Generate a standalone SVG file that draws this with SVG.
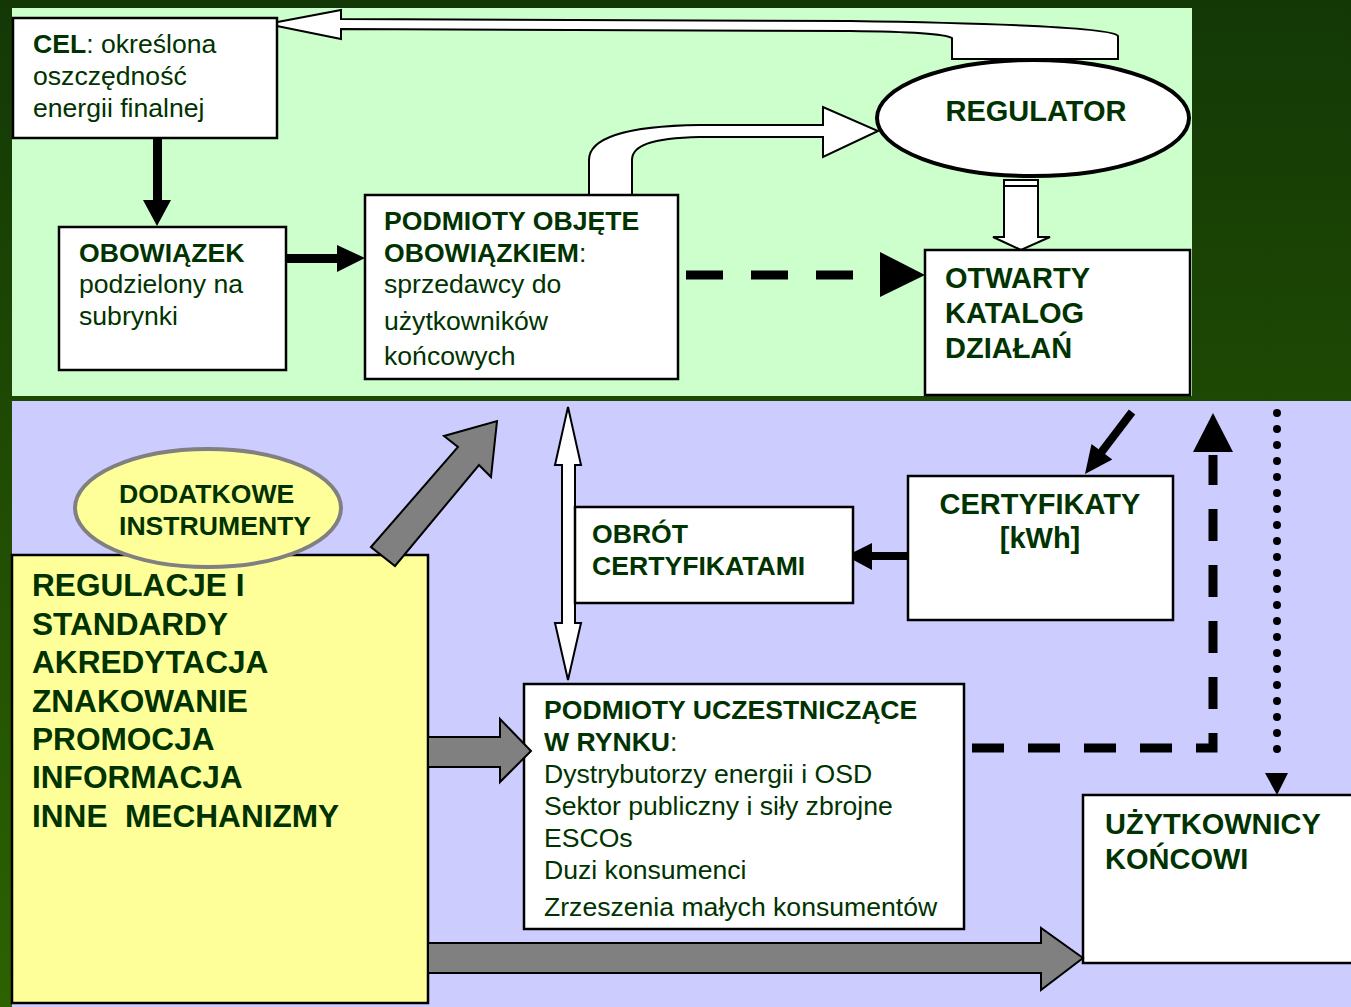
<svg xmlns="http://www.w3.org/2000/svg" width="1351" height="1007" viewBox="0 0 1351 1007">
<defs>
<linearGradient id="bg" x1="0" y1="0" x2="0" y2="1">
<stop offset="0" stop-color="#133806"/>
<stop offset="1" stop-color="#2d6200"/>
</linearGradient>
</defs>
<style>
.box{fill:#fff;stroke:#000;stroke-width:2.5}
.t{font-family:"Liberation Sans",Arial,sans-serif;fill:#003300;font-size:26.6px}
.b{font-weight:bold}
.big{font-size:29px}
.huge{font-size:31.6px}
.hollow{fill:#fff;stroke:#000;stroke-width:2}
.grey{fill:#808080;stroke:#000;stroke-width:2}
.solid{fill:#000;stroke:none}
</style>
<rect x="0" y="0" width="1351" height="1007" fill="url(#bg)"/>
<rect x="12" y="8" width="1180" height="388" fill="#ccffcc"/>
<rect x="12" y="401" width="1339" height="606" fill="#ccccff"/>

<g id="connectors">
<path class="hollow" d="M267,24 L341,10 L341,19 L850,21 Q1112,25 1118,36 L1118,59 L952,59 L952,38 Q942,32 850,31 L341,29 L341,39 Z"/>
<path class="solid" d="M153,138 H162 V200 H171 L157,226 L143,200 H153 Z"/>
<path class="solid" d="M286,254 H337 V245 L365,258 L337,272 V263 H286 Z"/>
<path class="hollow" d="M589,195 V160 C589,140 620,126 700,125 L823,125 L823,107 L878,131 L823,157 L823,137 L700,137 C650,138 632,146 632,160 V195 Z"/>
<path d="M686,275 H853" stroke="#000" stroke-width="9" stroke-dasharray="37 28" fill="none"/>
<path class="solid" d="M880,252 L925,275 L880,297 Z"/>
<path class="hollow" d="M1004,180 V237 H993 L1021,250 L1050,237 H1038 V180 Z"/>
<path d="M1004,186 H1038" stroke="#000" stroke-width="2"/>
<path d="M1132,412 L1100,454" stroke="#000" stroke-width="8"/>
<path class="solid" d="M1085,474 L1091.5,443.9 L1112.3,459.6 Z"/>
<path d="M972,748 H1213 V455" stroke="#000" stroke-width="9" stroke-dasharray="32 24" fill="none"/>
<path class="solid" d="M1213,413 L1233,452 L1193,452 Z"/>
<path d="M1277,413 V765" stroke="#000" stroke-width="8" stroke-linecap="round" stroke-dasharray="0 16" fill="none"/>
<path class="solid" d="M1265,773 L1288,773 L1277,795 Z"/>
<path class="solid" d="M908,552 H872 V543 L846,556 L872,570 V560 H908 Z"/>
<path class="hollow" d="M568,407 L581,465 L575,465 L575,623 L581,623 L568,680 L555,623 L562,623 L562,465 L555,465 Z"/>
</g>

<g id="cel">
<rect class="box" x="13" y="18" width="264" height="120"/>
<text class="t" x="33" y="53"><tspan class="b">CEL</tspan>: określona</text>
<text class="t" x="33" y="85">oszczędność</text>
<text class="t" x="33" y="117">energii finalnej</text>
</g>

<g id="obowiazek">
<rect class="box" x="59" y="227" width="227" height="143"/>
<text class="t b" x="79" y="262">OBOWIĄZEK</text>
<text class="t" x="79" y="293">podzielony na</text>
<text class="t" x="79" y="325">subrynki</text>
</g>

<g id="podmioty-objete">
<rect class="box" x="365" y="195" width="313" height="184"/>
<text class="t" x="384" y="230"><tspan class="b">PODMIOTY OBJĘTE</tspan></text>
<text class="t" x="384" y="262"><tspan class="b">OBOWIĄZKIEM</tspan>:</text>
<text class="t" x="384" y="293">sprzedawcy do</text>
<text class="t" x="384" y="330">użytkowników</text>
<text class="t" x="384" y="365">końcowych</text>
</g>

<g id="regulator">
<ellipse cx="1033" cy="118" rx="156" ry="58" fill="#fff" stroke="#000" stroke-width="4"/>
<text class="t b big" x="1036" y="121" text-anchor="middle">REGULATOR</text>
</g>

<g id="katalog">
<rect class="box" x="925" y="250" width="265" height="145"/>
<text class="t b big" x="945" y="288">OTWARTY</text>
<text class="t b big" x="945" y="323">KATALOG</text>
<text class="t b big" x="945" y="358">DZIAŁAŃ</text>
</g>

<g id="certyfikaty">
<rect class="box" x="908" y="476" width="265" height="144"/>
<text class="t b big" x="1040" y="514" text-anchor="middle">CERTYFIKATY</text>
<text class="t b big" x="1040" y="548" text-anchor="middle">[kWh]</text>
</g>

<g id="obrot">
<rect class="box" x="575" y="507" width="278" height="96"/>
<text class="t b" x="592" y="543">OBRÓT</text>
<text class="t b" x="592" y="575">CERTYFIKATAMI</text>
</g>

<g id="podmioty-uczestniczace">
<rect class="box" x="524" y="684" width="440" height="245"/>
<text class="t b" x="544" y="719">PODMIOTY UCZESTNICZĄCE</text>
<text class="t" x="544" y="751"><tspan class="b">W RYNKU</tspan>:</text>
<text class="t" x="544" y="783">Dystrybutorzy energii i OSD</text>
<text class="t" x="544" y="815">Sektor publiczny i siły zbrojne</text>
<text class="t" x="544" y="847">ESCOs</text>
<text class="t" x="544" y="879">Duzi konsumenci</text>
<text class="t" x="544" y="916">Zrzeszenia małych konsumentów</text>
</g>

<g id="uzytkownicy">
<rect class="box" x="1083" y="795" width="280" height="168"/>
<text class="t b big" x="1105" y="834">UŻYTKOWNICY</text>
<text class="t b big" x="1105" y="869">KOŃCOWI</text>
</g>

<g id="regulacje">
<rect x="12" y="555" width="416" height="448" fill="#ffff99" stroke="#000" stroke-width="2.5"/>
<text class="t b huge" x="32" y="596">REGULACJE I</text>
<text class="t b huge" x="32" y="635">STANDARDY</text>
<text class="t b huge" x="32" y="673">AKREDYTACJA</text>
<text class="t b huge" x="32" y="712">ZNAKOWANIE</text>
<text class="t b huge" x="32" y="750">PROMOCJA</text>
<text class="t b huge" x="32" y="788">INFORMACJA</text>
<text class="t b huge" x="32" y="827" xml:space="preserve">INNE  MECHANIZMY</text>
</g>

<g id="dodatkowe">
<ellipse cx="208" cy="508" rx="133" ry="59" fill="#ffff99" stroke="#808080" stroke-width="4"/>
<text class="t b" x="119" y="503">DODATKOWE</text>
<text class="t b" x="119" y="535">INSTRUMENTY</text>
</g>

<g id="grey-arrows">
<path class="grey" d="M371,547 L458,447 L444,436 L497,421 L491,477 L479,465 L395,566 Z"/>
<path class="grey" d="M428,737 H500 V719 L531,751 L500,782 V767 H428 Z"/>
<path class="grey" d="M428,943 H1041 V928 L1083,958 L1041,990 V973 H428 Z"/>
</g>
</svg>
